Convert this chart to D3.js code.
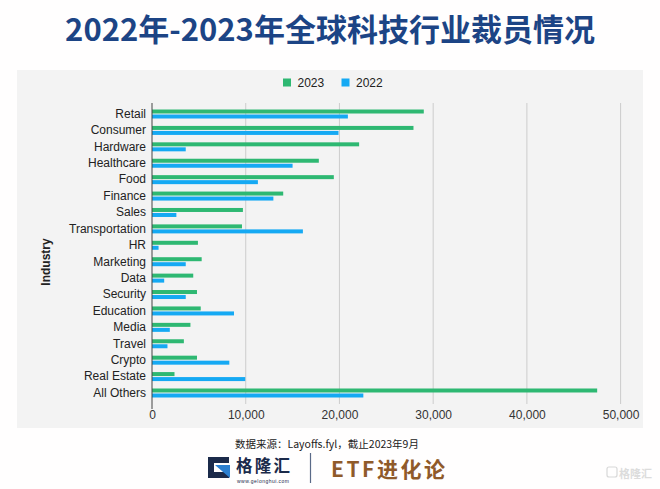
<!DOCTYPE html>
<html><head><meta charset="utf-8">
<script src="https://cdn.jsdelivr.net/npm/d3@7/dist/d3.min.js"></script>
<style>html,body{margin:0;padding:0;background:#fff;}svg{display:block;}</style>
</head><body>
<script>
const categories = ["Retail","Consumer","Hardware","Healthcare","Food","Finance","Sales","Transportation","HR","Marketing","Data","Security","Education","Media","Travel","Crypto","Real Estate","All Others"];
const values2023 = [29000,27900,22100,17800,19400,14000,9700,9600,4900,5300,4400,4800,5200,4100,3400,4800,2400,47500];
const values2022 = [20900,19900,3600,15000,11300,12950,2600,16100,700,3600,1300,3600,8750,1900,1650,8250,9950,22550];
const seriesNames = ["2023","2022"];
const xTicks = [0,10000,20000,30000,40000,50000];
const title = "2022年-2023年全球科技行业裁员情况";
const source = "数据来源：Layoffs.fyl，截止2023年9月";

const colors = {"2023":"#2eb872","2022":"#15a9f3"};
const W = 660, H = 489;
const svg = d3.select("body").append("svg").attr("width",W).attr("height",H);
svg.append("rect").attr("width",W).attr("height",H).attr("fill","#fffefe");

svg.append("text").attr("x",330).attr("y",27).attr("text-anchor","middle")
  .attr("dominant-baseline","central")
  .attr("font-family","'Noto Sans CJK SC', sans-serif").attr("font-weight",700)
  .attr("font-size",31).attr("fill","#1c4485").text(title);

// panel
svg.append("rect").attr("x",17).attr("y",70).attr("width",626).attr("height",358).attr("fill","#f3f3f3");

const x = d3.scaleLinear().domain([0,50000]).range([152,620.6]);
const y = d3.scaleBand().domain(categories).range([105.8,401.2]);
const font = "'Liberation Sans', Arial, sans-serif";

// gridlines
svg.append("g").selectAll("line").data(xTicks.filter(d=>d>0)).join("line")
  .attr("x1",d=>x(d)).attr("x2",d=>x(d)).attr("y1",103).attr("y2",404)
  .attr("stroke","#cccccc").attr("stroke-width",1);

// x axis labels via d3 axis
const xAxis = d3.axisBottom(x).tickValues(xTicks).tickSize(0).tickPadding(0).tickFormat(d3.format(","));
const gx = svg.append("g").attr("transform","translate(0,410)").call(xAxis);
gx.select(".domain").remove();
gx.selectAll("text").attr("font-family",font).attr("font-size",12).attr("fill","#333").attr("dy","0.71em");

// y axis labels
const yAxis = d3.axisLeft(y).tickSize(0).tickPadding(6);
const gy = svg.append("g").attr("transform","translate(152,0)").call(yAxis);
gy.select(".domain").remove();
gy.selectAll("text").attr("font-family",font).attr("font-size",12).attr("fill","#222");

// bars
const bh = 4;
svg.append("g").selectAll("rect").data(categories).join("rect")
  .attr("x",x(0)).attr("y",d=>y(d)+y.bandwidth()/2-4.5)
  .attr("width",(d,i)=>x(values2023[i])-x(0)).attr("height",bh).attr("fill",colors["2023"]);
svg.append("g").selectAll("rect").data(categories).join("rect")
  .attr("x",x(0)).attr("y",d=>y(d)+y.bandwidth()/2+0.5)
  .attr("width",(d,i)=>x(values2022[i])-x(0)).attr("height",bh).attr("fill",colors["2022"]);

// baseline
svg.append("line").attr("x1",x(0)).attr("x2",x(0)).attr("y1",103).attr("y2",409)
  .attr("stroke","#444").attr("stroke-width",1);

// y title
svg.append("text").attr("transform","translate(46,262) rotate(-90)").attr("text-anchor","middle")
  .attr("dominant-baseline","central").attr("font-family",font).attr("font-weight",700)
  .attr("font-size",12).attr("fill","#222").text("Industry");

// legend
const leg = svg.append("g");
const legX = [283, 341.5];
seriesNames.forEach((s,i)=>{
  leg.append("rect").attr("x",legX[i]).attr("y",78.5).attr("width",8).attr("height",8).attr("fill",colors[s]);
  leg.append("text").attr("x",legX[i]+14.5).attr("y",82.5).attr("dominant-baseline","central")
    .attr("font-family",font).attr("font-size",12).attr("fill","#222").text(s);
});

// source
svg.append("text").attr("x",235).attr("y",443).attr("dominant-baseline","central")
  .attr("font-family","'Noto Sans CJK SC', sans-serif").attr("font-size",10.5).attr("fill","#222").text(source);

// logo
const lg = svg.append("g");
lg.append("path").attr("d","M208,457 h21 v6 h-15 v9 h9 v-3 h6 v9 h-21 z").attr("fill","#1b2a4a");
lg.append("path").attr("d","M215,465 l15,0 l0,13 z").attr("fill","#2b7fd0");
lg.append("text").attr("x",236).attr("y",465).attr("dominant-baseline","central")
  .attr("font-family","'Noto Sans CJK SC', sans-serif").attr("font-weight",700).attr("font-size",16.5)
  .attr("fill","#1b2a4a").attr("textLength",54).text("格隆汇");
lg.append("text").attr("x",237).attr("y",480.5).attr("dominant-baseline","central")
  .attr("font-family",font).attr("font-size",5).attr("fill","#1b2a4a").attr("textLength",52).text("www.gelonghui.com");
lg.append("line").attr("x1",310.5).attr("x2",310.5).attr("y1",453).attr("y2",483).attr("stroke","#5a6a88").attr("stroke-width",1.2);
lg.append("text").attr("x",331).attr("y",468).attr("dominant-baseline","central")
  .attr("font-family","'Noto Sans CJK SC', sans-serif").attr("font-weight",700).attr("font-size",21)
  .attr("fill","#8f5a2a").attr("textLength",114).text("ETF进化论");
// watermark
svg.append("rect").attr("x",607).attr("y",467).attr("width",10).attr("height",10).attr("rx",2)
  .attr("fill","none").attr("stroke","#d8d8d8").attr("stroke-width",1.2);
svg.append("text").attr("x",619).attr("y",472.5).attr("dominant-baseline","central")
  .attr("font-family","'Noto Sans CJK SC', sans-serif").attr("font-weight",700).attr("font-size",11)
  .attr("fill","#dcdcdc").text("格隆汇");
</script>
</body></html>
